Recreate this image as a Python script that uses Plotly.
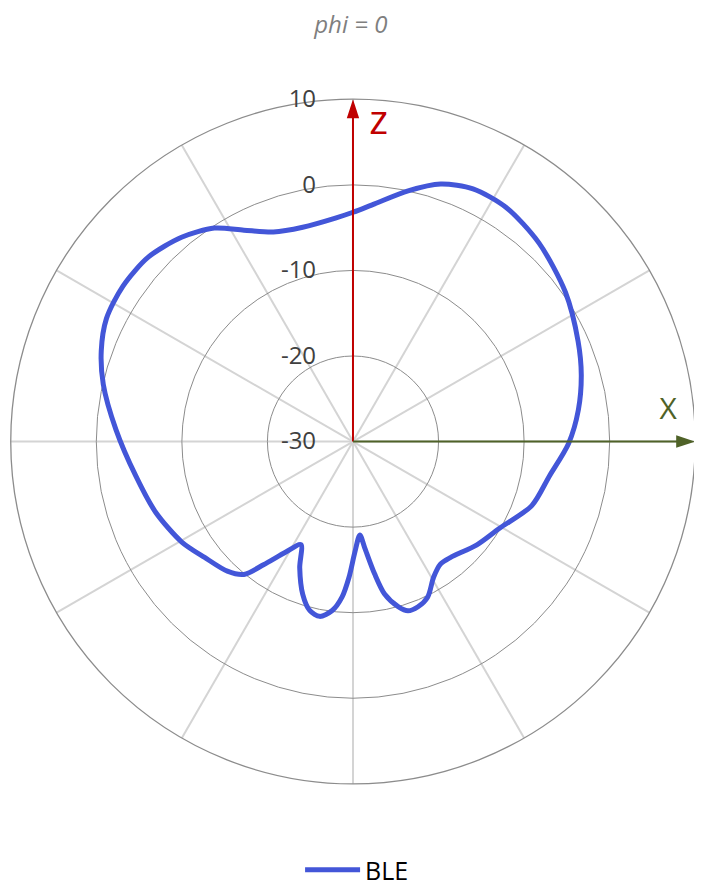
import plotly.graph_objects as go

# BLE radiation pattern, phi = 0 (angle clockwise from +z, gain in dB)
theta_deg = [0, 5.2, 12.4, 18.8, 25.4, 33.2, 43.1, 54.9, 66, 73.7, 82, 90.5,
             100, 109.7, 120.6, 129.8, 140, 144.5, 149.3, 154.3, 158.5, 162,
             164.7, 168.3, 170.7, 173.7, 175.8, 179, 181.7, 184, 187, 190.8,
             194.3, 198.2, 202.9, 206.8, 211.3, 216, 219.4, 224.1, 232, 239.6,
             250.3, 261, 272.9, 282.9, 289.8, 296.5, 304, 312, 320, 327, 332.7,
             339.2, 346.8, 355.5, 360]
gain_db = [-3.2, -2.1, 0.0, 1.8, 2.7, 2.7, 1.8, 0.35, -1.2, -2.2, -3.4, -4.8,
           -6.7, -7.8, -10.1, -11.15, -12.3, -12.4, -11.55, -9.85, -9.25, -9.2,
           -10.0, -11.8, -14.3, -17.5, -19.05, -17.1, -14.1, -11.8, -10.1, -9.2,
           -9.6, -11.2, -14.0, -16.5, -14.9, -12.2, -9.9, -8.9, -8.0, -6.8,
           -5.5, -4.3, -2.26, -0.06, 1.27, 2.2, 2.45, 2.2, 1.17, -0.25, -2.2,
           -3.8, -4.27, -3.8, -3.2]

r_min, r_max = -30, 10
radial_ticks = [-30, -20, -10, 0, 10]
radial_labels = ['-30', '-20', '-10', '0', '10']

fig = go.Figure()
fig.add_trace(go.Scatterpolar(
    theta=theta_deg, r=gain_db, mode='lines', name='BLE',
    line=dict(color='#4356d8', width=5, shape='spline', smoothing=0.8),
))

# axis arrows: z up (theta 0), X right (theta 90)
axes = [(0, '#c00000', 'z', 4.6, 7.2, 40), (90, '#4f6228', 'X', 84.6, 7.0, 30)]
for ang, col, lbl, lbl_ang, lbl_r, lbl_size in axes:
    fig.add_trace(go.Scatterpolar(
        theta=[ang, ang], r=[r_min, r_max], mode='lines+markers',
        line=dict(color=col, width=2),
        marker=dict(symbol=['circle', 'arrow'], size=[0, 20], color=col,
                    opacity=1, line=dict(width=0), angleref='previous'),
        showlegend=False, hoverinfo='skip',
    ))
    fig.add_trace(go.Scatterpolar(
        theta=[lbl_ang], r=[lbl_r], mode='text', text=[lbl],
        textfont=dict(color=col, size=lbl_size, family='Open Sans'),
        showlegend=False, hoverinfo='skip',
    ))

fig.update_layout(
    width=694, height=885,
    margin=dict(l=0, r=0, t=0, b=0),
    paper_bgcolor='white',
    font=dict(family='Open Sans', color='#404040'),
    title=dict(text='<i>phi = 0</i>', x=0.494, xanchor='center', y=0.981, yanchor='middle',
               font=dict(size=24, color='#7f7f7f')),
    showlegend=True,
    legend=dict(orientation='h', x=0.503, xanchor='center', y=0.018, yanchor='middle',
                itemwidth=55, font=dict(size=25, color='#000000')),
    polar=dict(
        domain=dict(x=[0.0, 0.9942], y=[0.1164, 0.8960]),
        bgcolor='white',
        radialaxis=dict(range=[r_min, r_max], tickvals=radial_ticks, ticktext=radial_labels,
                        angle=90, tickangle=90, side='counterclockwise', showline=False,
                        ticks='outside', ticklen=28, tickcolor='rgba(0,0,0,0)',
                        gridcolor='#8c8c8c', gridwidth=1.3,
                        tickfont=dict(size=24, color='#404040')),
        angularaxis=dict(rotation=90, direction='clockwise', dtick=30,
                         showticklabels=False, ticks='', gridcolor='#d4d4d4',
                         gridwidth=1.5, linecolor='#8c8c8c', linewidth=1.3),
    ),
)

fig.write_html("out.html")
